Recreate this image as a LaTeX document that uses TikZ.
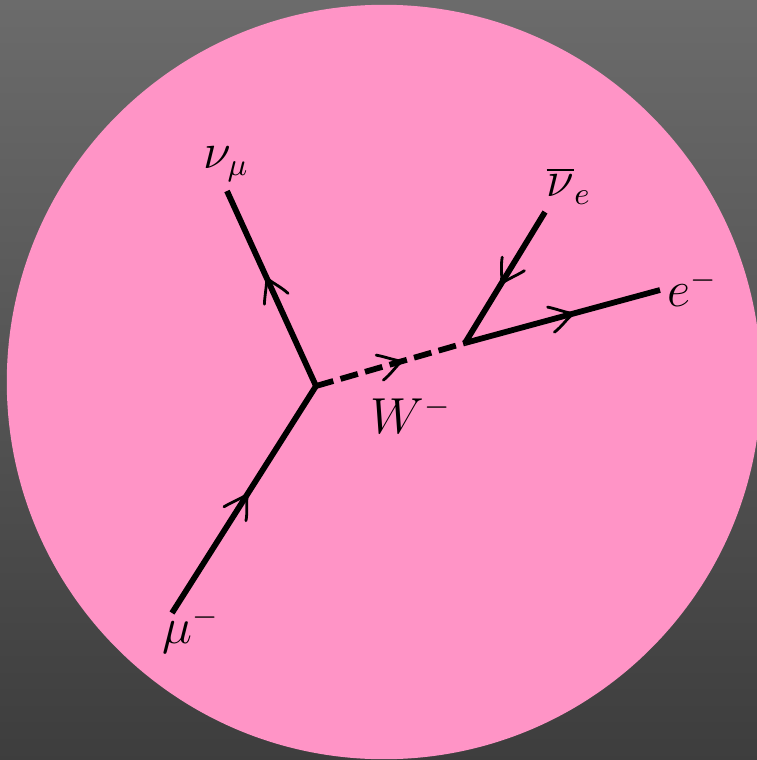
\documentclass[tikz,border=0pt]{standalone}
\usetikzlibrary{decorations.markings,shadings}
\tikzset{
  px/.style={x=0.01cm,y=-0.01cm},
  fermion/.style={line width=1.65pt,line cap=butt},
  boson/.style={line width=1.65pt,dash pattern=on 0.18cm off 0.075cm},
  barb/.style={postaction={decorate,decoration={markings,mark=at position #1 with {
    \draw[line width=0.8pt,solid,line cap=round,line join=miter] (-22,13) .. controls (-14,10) and (-6,3) .. (1,0) .. controls (-6,-3) and (-14,-9) .. (-22,-13);}}}},
  lab/.style={inner sep=0pt,outer sep=0pt,text=black,font=\fontsize{13.5}{16}\selectfont}
}
\begin{document}
\begin{tikzpicture}[px]
\useasboundingbox (0,0) rectangle (757,760);
\clip (0,0) rectangle (757,760);
\shade[top color=black!58,bottom color=black!76] (0,0) rectangle (757,760);
\fill[fill={rgb,255:red,255;green,148;blue,198}] (384,382) circle[radius=3.77cm];
\coordinate (v1) at (316,386);
\coordinate (v2) at (465,343);
\coordinate (mu) at (172,613);
\coordinate (numu) at (227,191);
\coordinate (nue) at (545,212);
\coordinate (el) at (660,290);
\draw[fermion,barb=0.52] (mu) -- (v1);
\draw[fermion,barb=0.55] (v1) -- (numu);
\draw[fermion,barb=0.54] (nue) -- (v2);
\draw[fermion,barb=0.55] (v2) -- (el);
\draw[boson,barb=0.57] (v1) -- (v2);
\node[lab] (lmu) at (191,630) {$\mu^-$};
\node[lab] (lnumu) at (226,164) {$\nu_\mu$};
\node[lab] (lnue) at (569,186) {$\overline{\nu}_e$};
\node[lab] (lel) at (693,288) {$e^-$};
\node[lab] (lW) at (411,415) {$W^-$};
\end{tikzpicture}
\end{document}
